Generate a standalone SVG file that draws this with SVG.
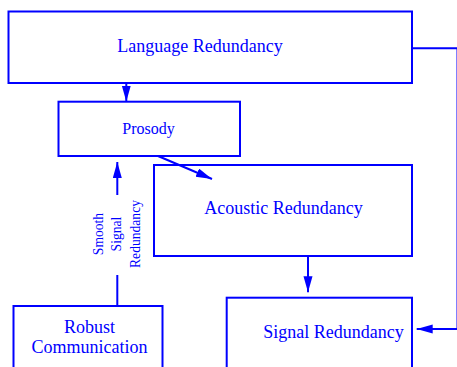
<svg xmlns="http://www.w3.org/2000/svg" width="457" height="367" viewBox="0 0 457 367">
<style>
.box{fill:none;stroke:#0000ff;stroke-width:2}
.t{font-family:"Liberation Serif","Times New Roman",serif;fill:#0000ff;font-size:18px}
.c{fill:none;stroke:#0000ff;stroke-width:2}
</style>
<defs>
<marker id="ah" markerUnits="userSpaceOnUse" markerWidth="17" markerHeight="10" refX="16" refY="4.5" orient="auto">
<path d="M0,0 L16,4.5 L0,9 z" fill="#0000ff"/>
</marker>
</defs>
<rect width="457" height="367" fill="#ffffff"/>
<g id="language">
<rect class="box" x="8.5" y="11.5" width="403.5" height="71.5"/>
<text class="t" x="117.3" y="52.3">Language Redundancy</text>
</g>
<g id="prosody">
<rect class="box" x="58.5" y="101.7" width="181.5" height="54.3"/>
<text class="t" x="122.3" y="134.3" style="font-size:16px">Prosody</text>
</g>
<g id="acoustic">
<rect class="box" x="154" y="165" width="258" height="91"/>
<text class="t" x="204.3" y="214.3">Acoustic Redundancy</text>
</g>
<g id="robust">
<rect class="box" x="13.5" y="306" width="149" height="70"/>
<text class="t" x="89.5" y="332.7" text-anchor="middle">Robust</text>
<text class="t" x="89.5" y="352.7" text-anchor="middle">Communication</text>
</g>
<g id="signal">
<rect class="box" x="226.7" y="297.7" width="185.3" height="80"/>
<text class="t" x="263.3" y="337.7">Signal Redundancy</text>
</g>
<g id="connectors">
<path class="c" d="M126.3,83 V101.5" marker-end="url(#ah)"/>
<path class="c" d="M158,156 L212,179" marker-end="url(#ah)"/>
<path class="c" d="M117.3,305 V275"/>
<path class="c" d="M117.3,195 V162" marker-end="url(#ah)"/>
<path class="c" d="M308,256 V292.3" marker-end="url(#ah)"/>
<path class="c" d="M412,48.3 H457.5 V329 H416.7" marker-end="url(#ah)"/>
<g class="t" style="font-size:13.6px" text-anchor="middle">
<text transform="translate(103,234) rotate(-90)">Smooth</text>
<text transform="translate(121.3,234) rotate(-90)">Signal</text>
<text transform="translate(139.6,234) rotate(-90)">Redundancy</text>
</g>
</g>
</svg>
